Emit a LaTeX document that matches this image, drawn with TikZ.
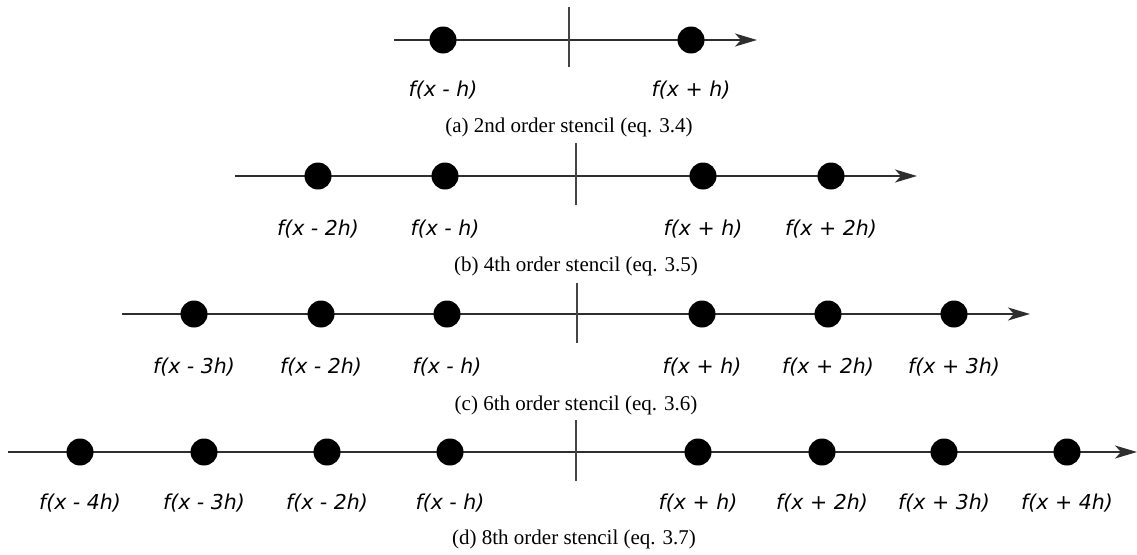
\documentclass[tikz,border=0pt]{standalone}
\usepackage{fontspec}
\setmainfont{Liberation Serif}
\newfontfamily\lblfont{DejaVu Sans}
\usetikzlibrary{arrows.meta}
\definecolor{axisgray}{HTML}{2E2E2E}
\definecolor{tickgray}{HTML}{444444}
\tikzset{
  axisline/.style={draw=axisgray, line width=1.6pt, -{Stealth[length=22pt, width=13pt, inset=6pt]}},
  tickline/.style={draw=tickgray, line width=1.6pt},
  stdot/.style={circle, fill=black, draw=none, minimum size=27pt, inner sep=0pt},
  stlabel/.style={font=\lblfont\itshape\fontsize{20.5}{24}\selectfont, inner sep=0pt, anchor=center},
  stcaption/.style={font=\fontsize{21}{25}\selectfont, inner sep=0pt, anchor=center}
}
\begin{document}
\begin{tikzpicture}[x=1pt, y=-1pt]
\useasboundingbox (0,0) rectangle (1137,554);
% ---- (a)
\coordinate (as) at (394,40);
\coordinate (ae) at (757,40);
\coordinate (att) at (569,7);
\coordinate (atb) at (569,67);
\draw[axisline] (as) -- (ae);
\draw[tickline] (att) -- (atb);
\node[stdot] (a1) at (443,40) {};
\node[stdot] (a2) at (691,40) {};
\node[stlabel] (la1) at (443,90) {f(x - h)};
\node[stlabel] (la2) at (691,90) {f(x + h)};
\node[stcaption] (ca) at (569,127) {(a) 2nd order stencil (eq. 3.4)};
% ---- (b)
\coordinate (bs) at (235,176);
\coordinate (be) at (917,176);
\coordinate (btt) at (576,143);
\coordinate (btb) at (576,205);
\draw[axisline] (bs) -- (be);
\draw[tickline] (btt) -- (btb);
\node[stdot] (b1) at (318,176) {};
\node[stdot] (b2) at (445,176) {};
\node[stdot] (b3) at (703,176) {};
\node[stdot] (b4) at (831,176) {};
\node[stlabel] (lb1) at (318,229) {f(x - 2h)};
\node[stlabel] (lb2) at (445,229) {f(x - h)};
\node[stlabel] (lb3) at (703,229) {f(x + h)};
\node[stlabel] (lb4) at (831,229) {f(x + 2h)};
\node[stcaption] (cb) at (576,266) {(b) 4th order stencil (eq. 3.5)};
% ---- (c)
\coordinate (cs) at (122,314);
\coordinate (ce) at (1030,314);
\coordinate (ctt) at (577,283);
\coordinate (ctb) at (577,343);
\draw[axisline] (cs) -- (ce);
\draw[tickline] (ctt) -- (ctb);
\node[stdot] (c1) at (194,314) {};
\node[stdot] (c2) at (321,314) {};
\node[stdot] (c3) at (447,314) {};
\node[stdot] (c4) at (702,314) {};
\node[stdot] (c5) at (828,314) {};
\node[stdot] (c6) at (954,314) {};
\node[stlabel] (lc1) at (194,367) {f(x - 3h)};
\node[stlabel] (lc2) at (321,367) {f(x - 2h)};
\node[stlabel] (lc3) at (447,367) {f(x - h)};
\node[stlabel] (lc4) at (702,367) {f(x + h)};
\node[stlabel] (lc5) at (828,367) {f(x + 2h)};
\node[stlabel] (lc6) at (954,367) {f(x + 3h)};
\node[stcaption] (cc) at (576,405) {(c) 6th order stencil (eq. 3.6)};
% ---- (d)
\coordinate (ds) at (8,452);
\coordinate (de) at (1137,452);
\coordinate (dtt) at (576,420);
\coordinate (dtb) at (576,481);
\draw[axisline] (ds) -- (de);
\draw[tickline] (dtt) -- (dtb);
\node[stdot] (d1) at (80,452) {};
\node[stdot] (d2) at (204,452) {};
\node[stdot] (d3) at (327,452) {};
\node[stdot] (d4) at (450,452) {};
\node[stdot] (d5) at (698,452) {};
\node[stdot] (d6) at (822,452) {};
\node[stdot] (d7) at (944,452) {};
\node[stdot] (d8) at (1067,452) {};
\node[stlabel] (ld1) at (80,503) {f(x - 4h)};
\node[stlabel] (ld2) at (204,503) {f(x - 3h)};
\node[stlabel] (ld3) at (327,503) {f(x - 2h)};
\node[stlabel] (ld4) at (450,503) {f(x - h)};
\node[stlabel] (ld5) at (698,503) {f(x + h)};
\node[stlabel] (ld6) at (822,503) {f(x + 2h)};
\node[stlabel] (ld7) at (944,503) {f(x + 3h)};
\node[stlabel] (ld8) at (1067,503) {f(x + 4h)};
\node[stcaption] (cd) at (574,539) {(d) 8th order stencil (eq. 3.7)};
\end{tikzpicture}
\end{document}
